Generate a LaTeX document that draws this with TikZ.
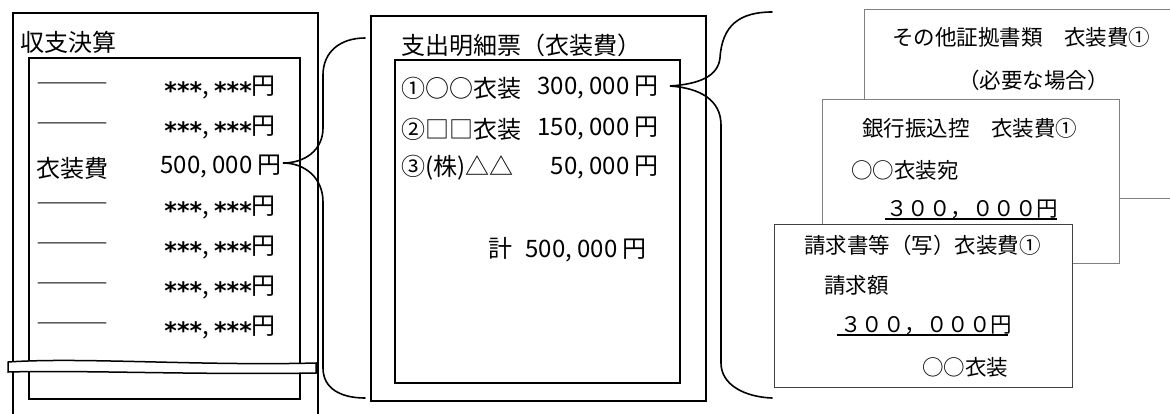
\documentclass[tikz,border=0pt]{standalone}
\usepackage{fontspec}
\setmainfont{Noto Sans CJK JP}
\newfontfamily\astfont{DejaVu Sans}
\usetikzlibrary{calc}
\newcommand{\astr}{{\astfont\bfseries\raisebox{-0.2em}{***}}}
\tikzset{
  box/.style={draw=black, line width=1.8pt, inner sep=0pt, anchor=north west},
  bracepath/.style={draw=black, line width=1.6pt, line cap=round},
  docbox/.style={draw=black!50, line width=1pt, fill=white, inner sep=0pt, anchor=north west},
  docboxdark/.style={draw=black!75, line width=1pt, fill=white, inner sep=0pt, anchor=north west},
  txt/.style={inner sep=0pt, font=\fontsize{24}{28}\selectfont},
  dtxt/.style={inner sep=0pt, font=\fontsize{21.5}{26}\selectfont},
  uline/.style={draw=black, line width=1.2pt}
}
\begin{document}
\begin{tikzpicture}[x=1pt,y=-1pt]
\clip (0,0) rectangle (1170,413);
\fill[white] (0,0) rectangle (1170,413);

% ---------- left: 収支決算 ----------
\node[box, minimum width=305pt, minimum height=430pt] (lout) at (12,12) {};
\node[box, minimum width=271pt, minimum height=341pt] (lin) at (28,57) {};
\node[txt, anchor=west] (ltitle) at (20,42) {収支決算};
\foreach \i/\y in {1/88,2/128,4/208,5/248,6/288,7/328} {
  \node[txt, anchor=west] (ld\i) at (36,\y) {―――};
  \node[txt, anchor=east] (la\i) at (276,\y) {\astr, \astr 円};
}
\node[txt, anchor=west] (ld3) at (36,168) {衣装費};
\node[txt, anchor=east] (la3) at (282,167) {500, 000 円};

% break mark
\draw[fill=white, line width=1.5pt]
  (8,362) .. controls (80,357) and (200,366) .. (316,363)
  -- (316,373) .. controls (200,375) and (80,370) .. (8,372) -- cycle;

% ---------- middle: 支出明細票 ----------
\node[box, minimum width=335pt, minimum height=385pt] (mout) at (370,15) {};
\node[box, minimum width=285pt, minimum height=323pt] (min) at (394,59) {};
\node[txt, anchor=west] (mtitle) at (401,45) {支出明細票（衣装費）};
\node[txt, anchor=west] (mn1) at (401,88) {①○○衣装};
\node[txt, anchor=east] (ma1) at (659,88) {300, 000 円};
\node[txt, anchor=west] (mn2) at (401,129) {②□□衣装};
\node[txt, anchor=east] (ma2) at (659,129) {150, 000 円};
\node[txt, anchor=west] (mn3) at (401,168) {③(株)△△};
\node[txt, anchor=east] (ma3) at (659,168) {50, 000 円};
\node[txt, anchor=east] (mtot) at (647,250) {計\hspace{0.55em}500, 000 円};

% ---------- braces ----------
\coordinate (t1) at ($(la3.east)+(1,-4)$);
\coordinate (e1a) at ($(mout.west |- 0,38)+(-5,0)$);
\coordinate (e1b) at ($(mout.west |- 0,398)+(-5,0)$);
\draw[bracepath] (e1a) .. controls (340,38) and (323,52) .. (323,75)
  -- (323,128) .. controls (323,150) and (305,163) .. (t1)
  .. controls (305,163) and (323,178) .. (323,202)
  -- (323,368) .. controls (323,388) and (340,398) .. (e1b);

\coordinate (t2) at ($(ma1.east)+(11,-2)$);
\draw[bracepath] (772,12) .. controls (740,12) and (722,25) .. (720,58)
  .. controls (718,76) and (700,84) .. (t2)
  .. controls (700,88) and (721,100) .. (721,125)
  -- (721,363) .. controls (721,385) and (745,397) .. (772,398);

% ---------- right: documents ----------
\node[docbox, minimum width=330pt, minimum height=189pt] (d3) at (864,9) {};
\node[dtxt, anchor=west] (d3a) at (892,37) {その他証拠書類　衣装費①};
\node[dtxt, anchor=west] (d3b) at (958,80) {（必要な場合）};

\node[docbox, minimum width=297pt, minimum height=164pt] (d2) at (822,99) {};
\node[dtxt, anchor=west] (d2a) at (862,128) {銀行振込控　衣装費①};
\node[dtxt, anchor=west] (d2b) at (851,170) {○○衣装宛};
\node[dtxt, anchor=west] (d2c) at (886,209) {３００，０００円};
\draw[uline] (885,219) -- (1057,219);

\node[docboxdark, minimum width=298pt, minimum height=163pt] (d1) at (774,224) {};
\node[dtxt, anchor=west] (d1a) at (804,245) {請求書等（写）衣装費①};
\node[dtxt, anchor=west] (d1b) at (824,285) {請求額};
\node[dtxt, anchor=west] (d1c) at (840,325) {３００，０００円};
\draw[uline] (837,335) -- (1008,335);
\node[dtxt, anchor=west] (d1d) at (922,367) {○○衣装};
\end{tikzpicture}
\end{document}
